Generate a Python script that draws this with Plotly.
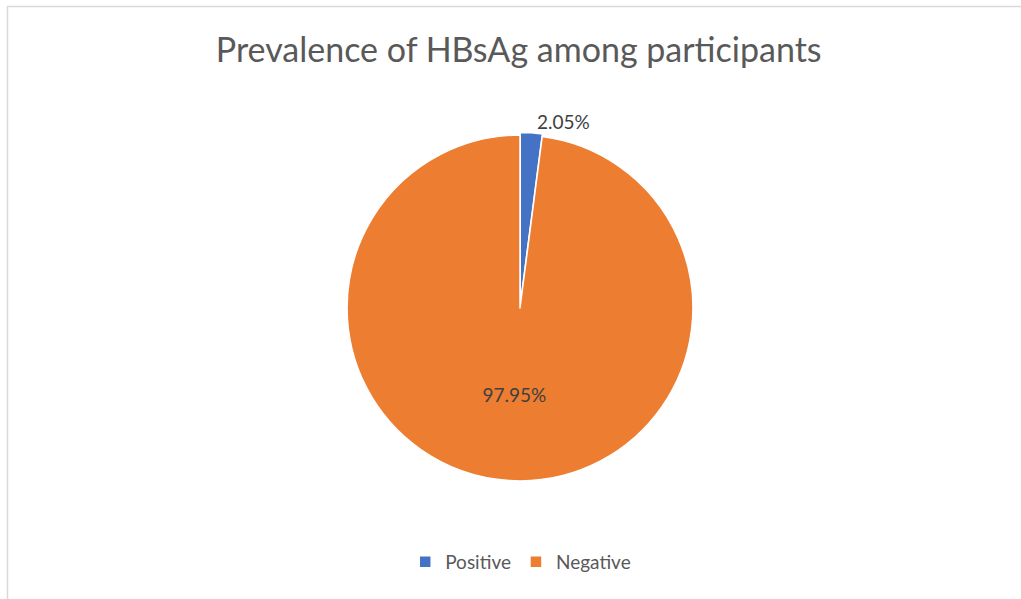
import plotly.graph_objects as go

labels = ["Positive", "Negative"]
values = [2.05, 97.95]
colors = ["#4472C4", "#ED7D31"]
text_positions = ["outside", "inside"]
pulls = [0.015, 0]

W, H = 1021, 599
cx, cy, r = 520, 308, 175.5

fig = go.Figure(go.Pie(
    labels=labels,
    values=values,
    sort=False,
    direction="clockwise",
    rotation=0,
    pull=pulls,
    marker=dict(colors=colors, line=dict(color="white", width=1.5)),
    texttemplate="%{value:.2f}%",
    textposition=text_positions,
    insidetextorientation="horizontal",
    textfont=dict(family="Lato, Open Sans, sans-serif", size=19, color="#404040"),
    domain=dict(x=[(cx - r) / W, (cx + r) / W], y=[1 - (cy + r) / H, 1 - (cy - r) / H]),
    hoverinfo="label+percent",
))

fig.update_layout(
    width=W, height=H,
    margin=dict(l=0, r=0, t=0, b=0),
    paper_bgcolor="white",
    title=dict(text="Prevalence of HBsAg among participants",
               x=0.508, xanchor="center", y=1 - 50 / H, yanchor="middle",
               font=dict(family="Lato, Open Sans, sans-serif", size=34, color="#595959")),
    showlegend=True,
    legend=dict(orientation="h", x=0.51, xanchor="center", y=1 - 562 / H, yanchor="middle",
                font=dict(family="Lato, Open Sans, sans-serif", size=19, color="#595959"),
                itemwidth=30, traceorder="normal"),
    shapes=[dict(type="rect", xref="paper", yref="paper",
                 x0=7.5 / W, x1=1.05, y0=-0.05, y1=1 - 6.5 / H,
                 line=dict(color="#D9D9D9", width=1.5), fillcolor="rgba(0,0,0,0)")],
)

fig.write_html("out.html")
